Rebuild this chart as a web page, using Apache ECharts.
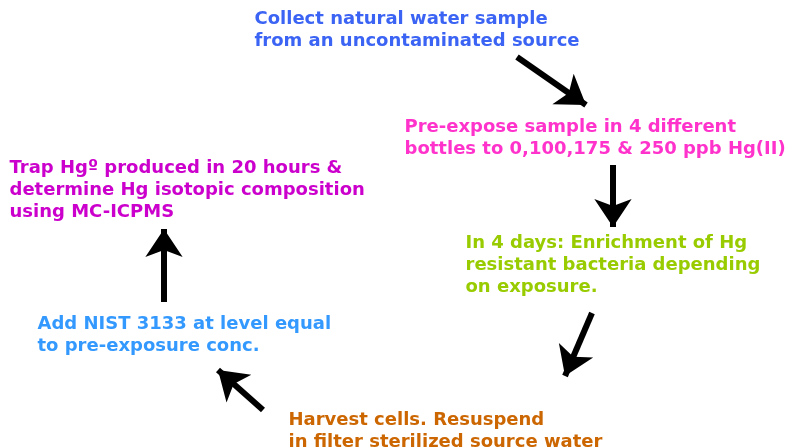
<!DOCTYPE html>
<html>
<head>
<meta charset="utf-8">
<script src="https://cdn.jsdelivr.net/npm/echarts@6/dist/echarts.min.js"></script>
<style>
html, body { margin: 0; padding: 0; background: #fff; }
#main { width: 794px; height: 448px; }
</style>
</head>
<body>
<div id="main"></div>
<script type="text/javascript">
// steps of the procedure, in order
var stepTexts = [
	'Collect natural water sample\nfrom an uncontaminated source',
	'Pre-expose sample in 4 different\nbottles to 0,100,175 & 250 ppb Hg(II)',
	'In 4 days: Enrichment of Hg\nresistant bacteria depending\non exposure.',
	'Harvest cells. Resuspend\nin filter sterilized source water',
	'Add NIST 3133 at level equal\nto pre-exposure conc.',
	'Trap Hg\u00ba produced in 20 hours &\ndetermine Hg isotopic composition\nusing MC-ICPMS'
];
var stepX = [255, 405, 466, 289, 38, 10];
var stepY = [9, 117, 233, 410, 314, 158];
var stepColors = ['#3b64f4', '#ff33cc', '#99cc00', '#cc6600', '#3399ff', '#cc00cc'];

// arrows between steps: [from, to]
var arrowFrom = [[517, 57], [613, 165], [592, 313], [263, 410], [164, 302]];
var arrowTo = [[586, 105], [613, 227], [565, 376], [218, 370], [164, 229]];

var chart = echarts.init(document.getElementById('main'));

var textData = stepTexts.map(function (t, i) {
	return {
		value: [stepX[i], stepY[i]],
		label: { formatter: t, color: stepColors[i] }
	};
});

var arrowData = arrowFrom.map(function (p, i) {
	return { coords: [p, arrowTo[i]] };
});

chart.setOption({
	animation: false,
	backgroundColor: '#fff',
	grid: { left: 0, right: 0, top: 0, bottom: 0 },
	xAxis: { type: 'value', min: 0, max: 794, show: false },
	yAxis: { type: 'value', min: 0, max: 448, inverse: true, show: false },
	series: [
		{
			type: 'scatter',
			symbolSize: 1,
			itemStyle: { color: 'rgba(0,0,0,0)', opacity: 1 },
			emphasis: { disabled: true },
			data: textData,
			label: {
				show: true,
				opacity: 1,
				position: [0, 0],
				align: 'left',
				verticalAlign: 'top',
				fontFamily: 'DejaVu Sans',
				fontWeight: 'bold',
				fontSize: 18,
				lineHeight: 22
			}
		},
		{
			type: 'lines',
			coordinateSystem: 'cartesian2d',
			symbol: ['none', 'arrow'],
			symbolSize: [19, 28],
			lineStyle: { color: '#000', width: 6, opacity: 1 },
			data: arrowData
		}
	]
});
</script>
</body>
</html>
